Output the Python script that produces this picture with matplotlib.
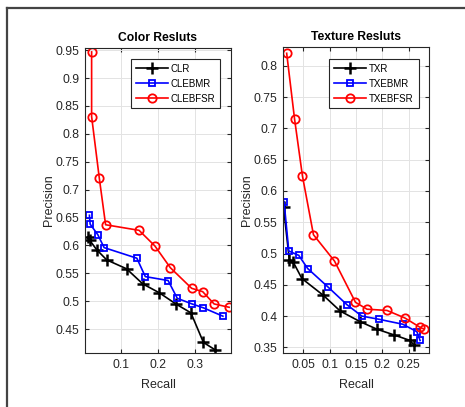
import matplotlib.pyplot as plt
from matplotlib.lines import Line2D

# color results
clr_x = [0.011, 0.015, 0.034, 0.061, 0.115, 0.159, 0.204, 0.249, 0.290, 0.324, 0.355]
clr_y = [0.615, 0.609, 0.592, 0.574, 0.558, 0.531, 0.515, 0.495, 0.479, 0.426, 0.413]
clebmr_x = [0.014, 0.016, 0.037, 0.054, 0.143, 0.166, 0.228, 0.253, 0.293, 0.324, 0.377]
clebmr_y = [0.654, 0.638, 0.619, 0.596, 0.577, 0.544, 0.537, 0.505, 0.495, 0.488, 0.473]
clebfsr_x = [0.020, 0.020, 0.041, 0.058, 0.149, 0.192, 0.234, 0.292, 0.322, 0.353, 0.394]
clebfsr_y = [0.947, 0.831, 0.720, 0.637, 0.627, 0.599, 0.560, 0.523, 0.517, 0.495, 0.489]

# texture results
txr_x = [0.012, 0.023, 0.030, 0.047, 0.088, 0.120, 0.158, 0.190, 0.222, 0.253, 0.260]
txr_y = [0.574, 0.490, 0.487, 0.460, 0.433, 0.408, 0.391, 0.379, 0.370, 0.361, 0.354]
txebmr_x = [0.013, 0.022, 0.041, 0.058, 0.096, 0.133, 0.161, 0.193, 0.239, 0.266, 0.272]
txebmr_y = [0.583, 0.504, 0.497, 0.476, 0.447, 0.418, 0.400, 0.395, 0.387, 0.375, 0.361]
txebfsr_x = [0.018, 0.033, 0.048, 0.069, 0.109, 0.149, 0.171, 0.209, 0.243, 0.272, 0.280]
txebfsr_y = [0.820, 0.715, 0.624, 0.530, 0.488, 0.422, 0.411, 0.409, 0.397, 0.382, 0.379]

plt.rcParams['font.family'] = ['Liberation Sans', 'DejaVu Sans']
plt.rcParams['font.size'] = 8

W, H = 465, 407
fig = plt.figure(figsize=(W / 100, H / 100), dpi=100)
fig.patch.set_facecolor('white')

# frame lines at left and top
fig.add_artist(Line2D([7 / W, 7 / W], [0, 1 - 8 / H], color='#444444', lw=1.6))
fig.add_artist(Line2D([7 / W, 1], [1 - 8 / H, 1 - 8 / H], color='#444444', lw=1.6))


def panel(box, title, series, xlim, ylim, xticks, yticks, xticklabels, anchor):
    l, r, t, b = box
    ax = fig.add_axes([l / W, 1 - b / H, (r - l) / W, (b - t) / H])
    for (x, y, c, m, ms, lab) in series:
        ax.plot(x, y, color=c, marker=m, ms=ms, mfc='none', mew=1.3 if m != '+' else 1.8,
                lw=1.2, label=lab)
    ax.set_xlim(*xlim)
    ax.set_ylim(*ylim)
    ax.set_xticks(xticks)
    ax.set_xticklabels(xticklabels)
    ax.set_yticks(yticks)
    ax.set_yticklabels([('%g' % v) for v in yticks])
    ax.grid(True, color='#e3e3e3', lw=0.7)
    ax.set_axisbelow(True)
    ax.tick_params(direction='in', top=True, right=True, length=3, colors='#262626',
                   labelcolor='#262626', labelsize=8.7, pad=4)
    for s in ax.spines.values():
        s.set_color('#262626')
        s.set_linewidth(0.8)
    ax.set_title(title, fontsize=8.7, fontweight='bold', pad=5)
    ax.set_xlabel('Recall', fontsize=9, color='#262626', labelpad=6)
    ax.set_ylabel('Precision', fontsize=9, color='#262626', labelpad=0.5)
    leg = ax.legend(loc='upper right', bbox_to_anchor=anchor, borderaxespad=0, fancybox=False,
                    edgecolor='#262626', framealpha=1, fontsize=7, handlelength=3.3,
                    borderpad=0.5, labelspacing=0.5, handletextpad=0.3)
    leg.get_frame().set_linewidth(0.8)
    return ax


panel((85, 231, 48, 353), 'Color Resluts',
      [(clr_x, clr_y, 'black', '+', 8, 'CLR'),
       (clebmr_x, clebmr_y, 'blue', 's', 4.5, 'CLEBMR'),
       (clebfsr_x, clebfsr_y, 'red', 'o', 6, 'CLEBFSR')],
      (0.002, 0.399), (0.407, 0.954),
      [0.1, 0.2, 0.3], [0.45, 0.5, 0.55, 0.6, 0.65, 0.7, 0.75, 0.8, 0.85, 0.9, 0.95],
      ['0.1', '0.2', '0.3'], (0.925, 0.964))

panel((283, 429, 47, 353), 'Texture Resluts',
      [(txr_x, txr_y, 'black', '+', 8, 'TXR'),
       (txebmr_x, txebmr_y, 'blue', 's', 4.5, 'TXEBMR'),
       (txebfsr_x, txebfsr_y, 'red', 'o', 6, 'TXEBFSR')],
      (0.011, 0.289), (0.341, 0.830),
      [0.05, 0.1, 0.15, 0.2, 0.25], [0.35, 0.4, 0.45, 0.5, 0.55, 0.6, 0.65, 0.7, 0.75, 0.8],
      ['0.05', '0.1', '0.15', '0.2', '0.25'], (0.93, 0.961))

fig.savefig('out.png', dpi=100)
